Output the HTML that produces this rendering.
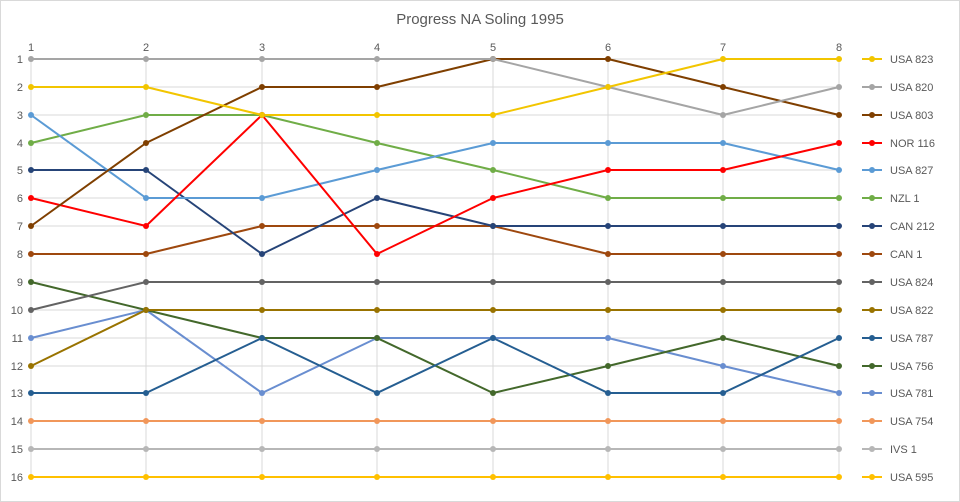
<!DOCTYPE html>
<html><head><meta charset="utf-8"><style>
body{margin:0;background:#fff;}
svg{display:block;font-family:"Liberation Sans",sans-serif;}
</style></head><body>
<svg id="s" width="960" height="502" viewBox="0 0 960 502">
<rect x="0.5" y="0.5" width="959" height="501" fill="#fff" stroke="#d9d9d9"/>
<text x="480" y="24" text-anchor="middle" font-size="15" fill="#595959">Progress NA Soling 1995</text>
<g stroke="#d9d9d9" stroke-width="1">
<line x1="31" y1="59" x2="31" y2="477"/><line x1="146" y1="59" x2="146" y2="477"/><line x1="262" y1="59" x2="262" y2="477"/><line x1="377" y1="59" x2="377" y2="477"/><line x1="493" y1="59" x2="493" y2="477"/><line x1="608" y1="59" x2="608" y2="477"/><line x1="723" y1="59" x2="723" y2="477"/><line x1="839" y1="59" x2="839" y2="477"/>
<line x1="31" y1="59" x2="839" y2="59"/><line x1="31" y1="87" x2="839" y2="87"/><line x1="31" y1="115" x2="839" y2="115"/><line x1="31" y1="143" x2="839" y2="143"/><line x1="31" y1="170" x2="839" y2="170"/><line x1="31" y1="198" x2="839" y2="198"/><line x1="31" y1="226" x2="839" y2="226"/><line x1="31" y1="254" x2="839" y2="254"/><line x1="31" y1="282" x2="839" y2="282"/><line x1="31" y1="310" x2="839" y2="310"/><line x1="31" y1="338" x2="839" y2="338"/><line x1="31" y1="366" x2="839" y2="366"/><line x1="31" y1="393" x2="839" y2="393"/><line x1="31" y1="421" x2="839" y2="421"/><line x1="31" y1="449" x2="839" y2="449"/><line x1="31" y1="477" x2="839" y2="477"/>
</g>
<g font-size="11" fill="#595959" text-anchor="middle">
<text x="31" y="51">1</text><text x="146" y="51">2</text><text x="262" y="51">3</text><text x="377" y="51">4</text><text x="493" y="51">5</text><text x="608" y="51">6</text><text x="723" y="51">7</text><text x="839" y="51">8</text>
</g>
<g font-size="11" fill="#595959" text-anchor="end">
<text x="23" y="63">1</text><text x="23" y="91">2</text><text x="23" y="119">3</text><text x="23" y="147">4</text><text x="23" y="174">5</text><text x="23" y="202">6</text><text x="23" y="230">7</text><text x="23" y="258">8</text><text x="23" y="286">9</text><text x="23" y="314">10</text><text x="23" y="342">11</text><text x="23" y="370">12</text><text x="23" y="397">13</text><text x="23" y="425">14</text><text x="23" y="453">15</text><text x="23" y="481">16</text>
</g>
<g id="series" fill="none" stroke-width="2" stroke-linejoin="round">
<polyline stroke="#ffc000" points="31,477 146,477 262,477 377,477 493,477 608,477 723,477 839,477"/>
<polyline stroke="#b7b7b7" points="31,449 146,449 262,449 377,449 493,449 608,449 723,449 839,449"/>
<polyline stroke="#f1975a" points="31,421 146,421 262,421 377,421 493,421 608,421 723,421 839,421"/>
<polyline stroke="#698ed0" points="31,338 146,310 262,393 377,338 493,338 608,338 723,366 839,393"/>
<polyline stroke="#43682b" points="31,282 146,310 262,338 377,338 493,393 608,366 723,338 839,366"/>
<polyline stroke="#255e91" points="31,393 146,393 262,338 377,393 493,338 608,393 723,393 839,338"/>
<polyline stroke="#997300" points="31,366 146,310 262,310 377,310 493,310 608,310 723,310 839,310"/>
<polyline stroke="#636363" points="31,310 146,282 262,282 377,282 493,282 608,282 723,282 839,282"/>
<polyline stroke="#9e480e" points="31,254 146,254 262,226 377,226 493,226 608,254 723,254 839,254"/>
<polyline stroke="#264478" points="31,170 146,170 262,254 377,198 493,226 608,226 723,226 839,226"/>
<polyline stroke="#70ad47" points="31,143 146,115 262,115 377,143 493,170 608,198 723,198 839,198"/>
<polyline stroke="#5b9bd5" points="31,115 146,198 262,198 377,170 493,143 608,143 723,143 839,170"/>
<polyline stroke="#ff0000" points="31,198 146,226 262,115 377,254 493,198 608,170 723,170 839,143"/>
<polyline stroke="#7f3f00" points="31,226 146,143 262,87 377,87 493,59 608,59 723,87 839,115"/>
<polyline stroke="#a5a5a5" points="31,59 146,59 262,59 377,59 493,59 608,87 723,115 839,87"/>
<polyline stroke="#f2c500" points="31,87 146,87 262,115 377,115 493,115 608,87 723,59 839,59"/>
</g>
<g id="legend" stroke-width="2" font-size="11" fill="#595959">
<g stroke="#f2c500"><line x1="862" y1="59" x2="882" y2="59"/><text x="890" y="63" stroke="none">USA 823</text></g>
<g stroke="#a5a5a5"><line x1="862" y1="87" x2="882" y2="87"/><text x="890" y="91" stroke="none">USA 820</text></g>
<g stroke="#7f3f00"><line x1="862" y1="115" x2="882" y2="115"/><text x="890" y="119" stroke="none">USA 803</text></g>
<g stroke="#ff0000"><line x1="862" y1="143" x2="882" y2="143"/><text x="890" y="147" stroke="none">NOR 116</text></g>
<g stroke="#5b9bd5"><line x1="862" y1="170" x2="882" y2="170"/><text x="890" y="174" stroke="none">USA 827</text></g>
<g stroke="#70ad47"><line x1="862" y1="198" x2="882" y2="198"/><text x="890" y="202" stroke="none">NZL 1</text></g>
<g stroke="#264478"><line x1="862" y1="226" x2="882" y2="226"/><text x="890" y="230" stroke="none">CAN 212</text></g>
<g stroke="#9e480e"><line x1="862" y1="254" x2="882" y2="254"/><text x="890" y="258" stroke="none">CAN 1</text></g>
<g stroke="#636363"><line x1="862" y1="282" x2="882" y2="282"/><text x="890" y="286" stroke="none">USA 824</text></g>
<g stroke="#997300"><line x1="862" y1="310" x2="882" y2="310"/><text x="890" y="314" stroke="none">USA 822</text></g>
<g stroke="#255e91"><line x1="862" y1="338" x2="882" y2="338"/><text x="890" y="342" stroke="none">USA 787</text></g>
<g stroke="#43682b"><line x1="862" y1="366" x2="882" y2="366"/><text x="890" y="370" stroke="none">USA 756</text></g>
<g stroke="#698ed0"><line x1="862" y1="393" x2="882" y2="393"/><text x="890" y="397" stroke="none">USA 781</text></g>
<g stroke="#f1975a"><line x1="862" y1="421" x2="882" y2="421"/><text x="890" y="425" stroke="none">USA 754</text></g>
<g stroke="#b7b7b7"><line x1="862" y1="449" x2="882" y2="449"/><text x="890" y="453" stroke="none">IVS 1</text></g>
<g stroke="#ffc000"><line x1="862" y1="477" x2="882" y2="477"/><text x="890" y="481" stroke="none">USA 595</text></g>
</g>
</svg>
<script>
var NS="http://www.w3.org/2000/svg",s=document.getElementById("s");
function dot(x,y,c){var e=document.createElementNS(NS,"circle");e.setAttribute("cx",x);e.setAttribute("cy",y);e.setAttribute("r",3);e.setAttribute("fill",c);s.appendChild(e);}
document.querySelectorAll("#series polyline").forEach(function(p){var c=p.getAttribute("stroke");p.getAttribute("points").split(" ").forEach(function(q){var a=q.split(",");dot(a[0],a[1],c);});});
document.querySelectorAll("#legend line").forEach(function(l){dot(872,l.getAttribute("y1"),l.parentNode.getAttribute("stroke"));});
</script>
</body></html>
